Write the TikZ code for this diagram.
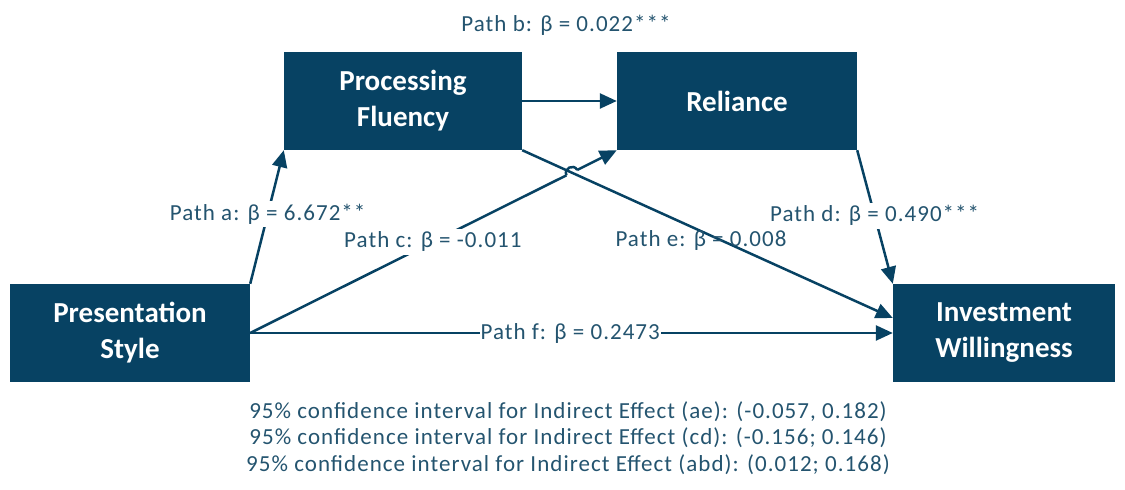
\documentclass[tikz,border=0pt]{standalone}
\usepackage{fontspec}
\setmainfont{Carlito}
\newfontfamily\lblfont[LetterSpace=4.5]{Carlito}
\usetikzlibrary{arrows.meta,calc}
\definecolor{boxc}{HTML}{074263}
\definecolor{txtc}{HTML}{24546F}
\tikzset{
  box/.style={fill=boxc, draw=none, minimum width=#1, minimum height=98pt, inner sep=0pt,
    text=white, align=center, font=\fontsize{29}{36}\selectfont\bfseries},
  lbl/.style={text=txtc, inner sep=3pt, font=\lblfont\fontsize{23}{26}\selectfont},
  wlbl/.style={lbl, fill=white},
  conn/.style={draw=boxc, line width=2.5pt, -{Triangle[length=17pt,width=15pt]}},
  plain/.style={draw=boxc, line width=2.5pt}
}
\begin{document}
\begin{tikzpicture}[x=1pt,y=1pt]
\useasboundingbox (0,0) rectangle (1125,490);
\node[box=238pt] (PF) at (403,389) {Processing\\Fluency};
\node[box=240pt] (R) at (737,389) {Reliance};
\node[box=240pt] (PS) at (130,157) {Presentation\\Style};
\node[box=222pt] (IW) at (1004,157) {Investment\\Willingness};
% path b
\draw[conn] (PF.east) -- (R.west);
\node[lbl] (lb) at (566,465) {Path b: β = 0.022***};
% path a
\draw[conn] (PS.north east) -- node[wlbl, pos=0.52] (la) {Path a: β = 6.672**} (PF.south west);
% path e
\draw[conn] (PF.south east) -- ([yshift=15pt]IW.west);
\node[lbl] (le) at (701,249) {Path e: β = 0.008};
% path c with hop over path e
\coordinate (X) at (intersection of PS.east--R.south west and PF.south east--{[yshift=15pt]IW.west});
\coordinate (P1) at ($(X)!6pt!(PS.east)$);
\coordinate (P2) at ($(X)!6pt!(R.south west)$);
\draw[plain] (PS.east) -- node[wlbl, pos=0.52/0.9] (lc) {Path c: β = -0.011} (P1);
\draw[plain] (P1) to[out=116,in=116,looseness=1.6] (P2);
\draw[conn] (P2) -- (R.south west);
% path d
\draw[conn] (R.south east) -- node[wlbl, pos=0.49] (ld) {Path d: β = 0.490***} (IW.north west);
% path f
\draw[conn] (PS.east) -- node[wlbl, pos=0.498, inner sep=1pt] (lf) {Path f: β = 0.2473} (IW.west);
% confidence intervals
\node[lbl] (ci1) at (568,78) {95\% confidence interval for Indirect Effect (ae): (-0.057, 0.182)};
\node[lbl] (ci2) at (568,52) {95\% confidence interval for Indirect Effect (cd): (-0.156; 0.146)};
\node[lbl] (ci3) at (568,25) {95\% confidence interval for Indirect Effect (abd): (0.012; 0.168)};
\end{tikzpicture}
\end{document}
